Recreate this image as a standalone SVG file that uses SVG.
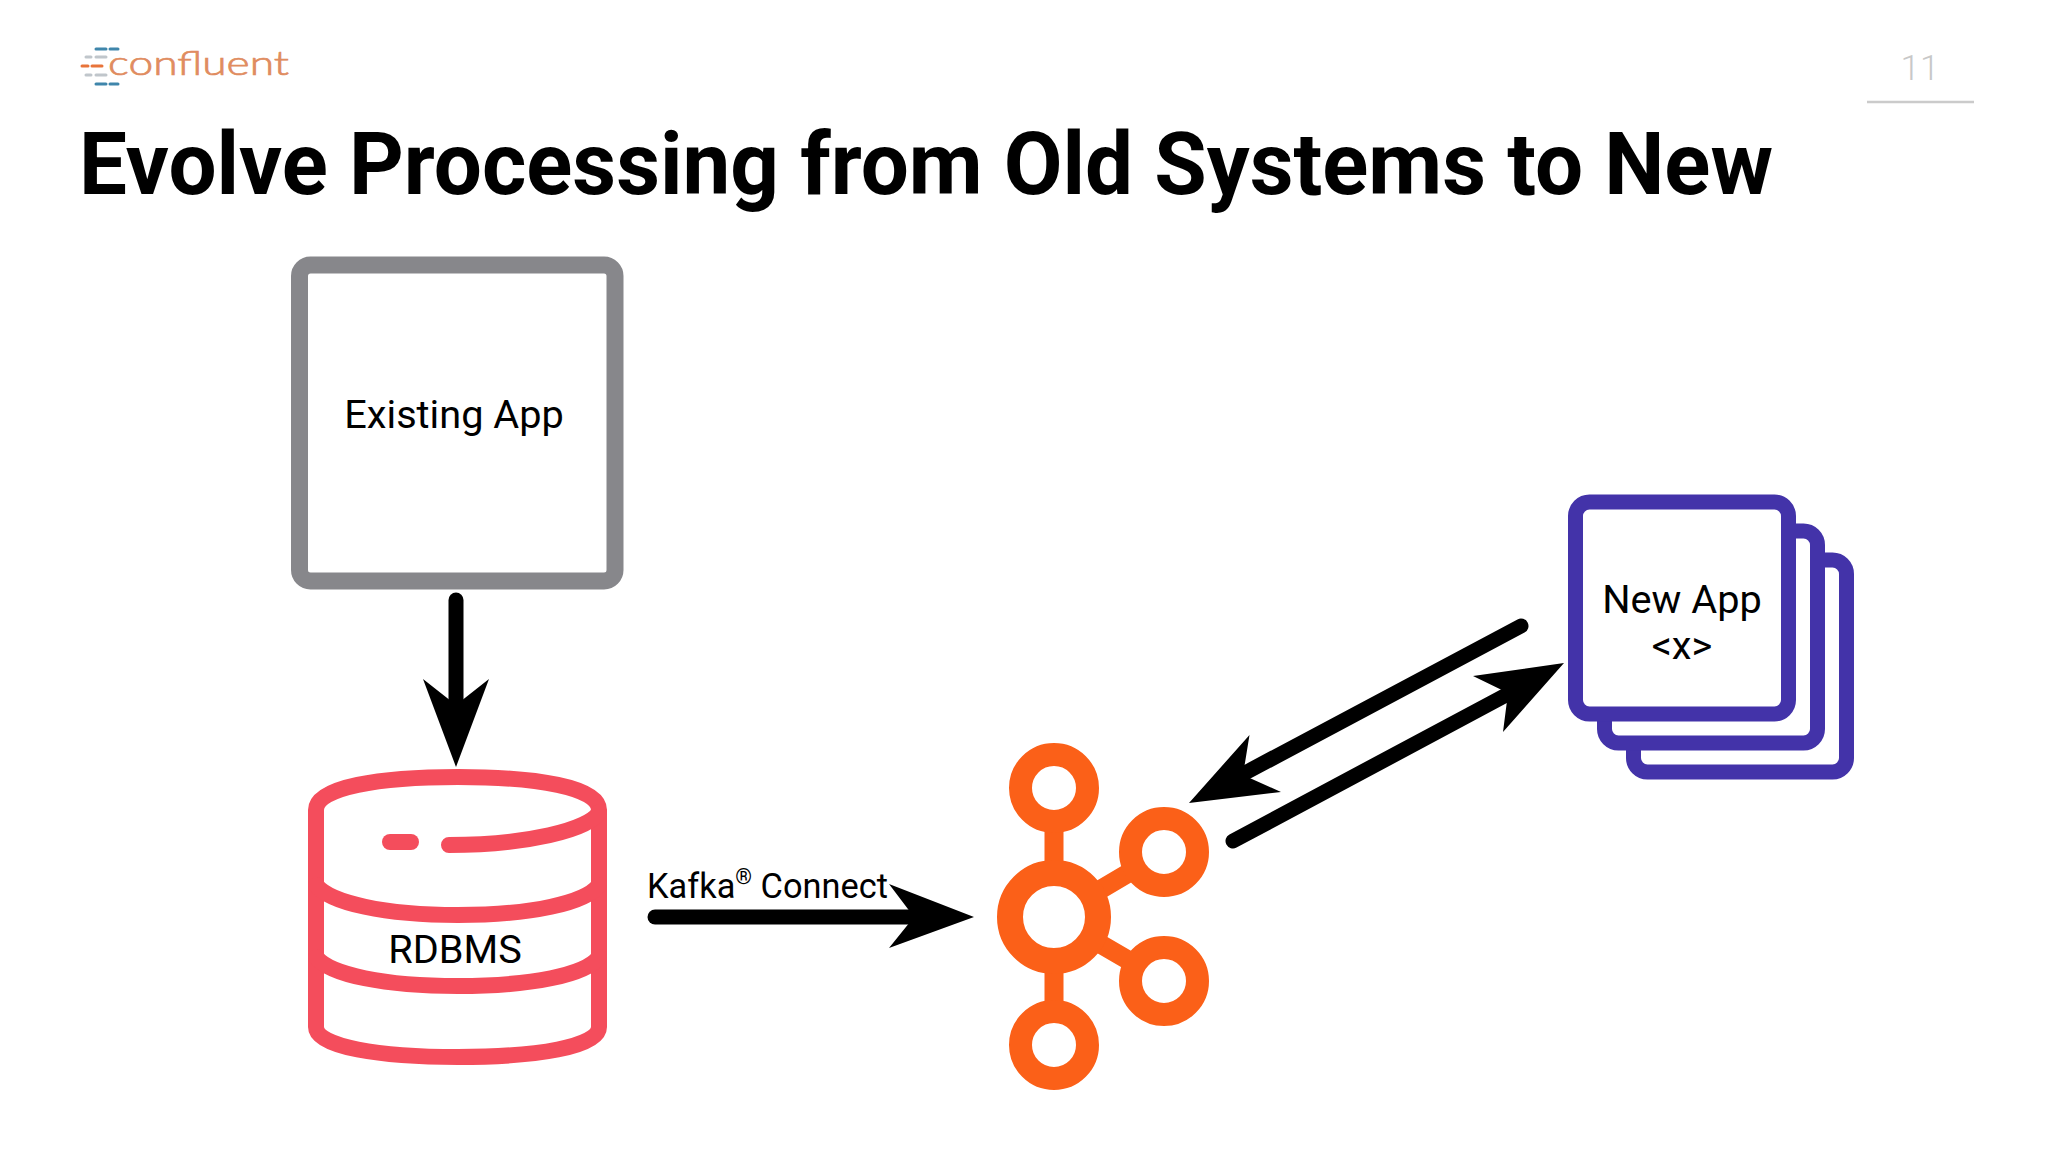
<svg xmlns="http://www.w3.org/2000/svg" width="2048" height="1152" viewBox="0 0 2048 1152">
<style>
.t{font-family:Roboto,"Liberation Sans",sans-serif;fill:#000}
.title{font-size:88px;font-weight:700}
.lbl{font-size:39.700px}
.arrow{stroke:#000;stroke-width:15;stroke-linecap:round;fill:none}
.head{fill:#000}
.db{fill:none;stroke:#f44d5c;stroke-width:16;stroke-linecap:round}
.app{fill:#fff;stroke:#4333a9;stroke-width:15}
.ring{fill:#fff;stroke:#fb6018;stroke-width:23}
.bar{stroke:#fb6018;stroke-width:19}
.dash{stroke-width:3;stroke-linecap:round}
</style>
<rect width="2048" height="1152" fill="#fff"/>
<g id="logo">
<g class="dash">
<path d="M96 49H106M110 49H118M96 84H106M110 84H118" stroke="#3f86ab"/>
<path d="M86 57H91M96 57H106M86 75H91M96 75H106" stroke="#c0c6cb"/>
<path d="M82 66H88M92 66H102" stroke="#e8743a"/>
</g>
<text x="108" y="75" font-family="Lato,sans-serif" font-size="33" font-weight="300" fill="#e08c60" stroke="#e08c60" stroke-width=".7" textLength="181" lengthAdjust="spacingAndGlyphs">confluent</text>
</g>
<g id="page-number">
<text x="1920" y="80" text-anchor="middle" font-family="Roboto,sans-serif" font-weight="300" font-size="35" fill="#c8c8c8">11</text>
<path d="M1867 102H1974" stroke="#cbcbcb" stroke-width="2.500"/>
</g>
<text id="title" class="t title" x="79" y="194" textLength="1694" lengthAdjust="spacingAndGlyphs">Evolve Processing from Old Systems to New</text>
<g id="existing-app">
<rect x="299.500" y="265" width="315.500" height="316" rx="11" fill="#fff" stroke="#87878b" stroke-width="17"/>
<text class="t lbl" x="454" y="428" text-anchor="middle">Existing App</text>
</g>
<g id="rdbms">
<path class="db" d="M316 810C316 787 380 777 458 777C536 777 599 787 599 810V1027C599 1047 536 1057 458 1057C380 1057 316 1047 316 1027V810"/>
<path class="db" d="M599 812C590 830 525 845 449 845"/>
<path class="db" d="M390 842H411"/>
<path class="db" d="M316 885C330 903 385 915 458 915C531 915 586 903 599 885"/>
<path class="db" d="M316 957C330 975 385 986 458 986C531 986 586 975 599 957"/>
<text class="t lbl" x="455" y="963" text-anchor="middle">RDBMS</text>
</g>
<g id="kafka">
<path class="bar" d="M1054 788V1045M1054 917L1164 852M1054 917L1164 981"/>
<circle class="ring" cx="1054" cy="917" r="44" style="stroke-width:26"/>
<circle class="ring" cx="1054" cy="788" r="33.500"/>
<circle class="ring" cx="1164" cy="852" r="33.500"/>
<circle class="ring" cx="1164" cy="981" r="33.500"/>
<circle class="ring" cx="1054" cy="1045" r="33.500"/>
</g>
<g id="new-app">
<rect class="app" x="1633.500" y="560" width="213" height="212" rx="14"/>
<rect class="app" x="1604.500" y="531" width="213" height="212" rx="14"/>
<rect class="app" x="1575.500" y="502" width="213" height="212" rx="14"/>
<text class="t lbl" x="1682" y="613" text-anchor="middle">New App</text>
<text class="t lbl" x="1682" y="659" text-anchor="middle">&lt;x&gt;</text>
</g>
<g id="connectors">
<path class="arrow" d="M456 600V700"/>
<path class="head" d="M456 767L423 679L456 705L489 679Z"/>
<path class="arrow" d="M655 917H920"/>
<path class="head" d="M974 917L889 884L914 917L889 948Z"/>
<path class="arrow" d="M1521 626L1245 773"/>
<path class="head" d="M1189 803L1249.500 735L1243 775L1281 792Z"/>
<path class="arrow" d="M1233 841L1508 694"/>
<path class="head" d="M1564 663L1473 676L1508 693L1503 732Z"/>
</g>
<text id="kafka-connect" class="t" x="647" y="898" font-size="35.500" textLength="241" lengthAdjust="spacingAndGlyphs">Kafka<tspan font-size="22" dy="-14">®</tspan><tspan dy="14"> Connect</tspan></text>
</svg>
